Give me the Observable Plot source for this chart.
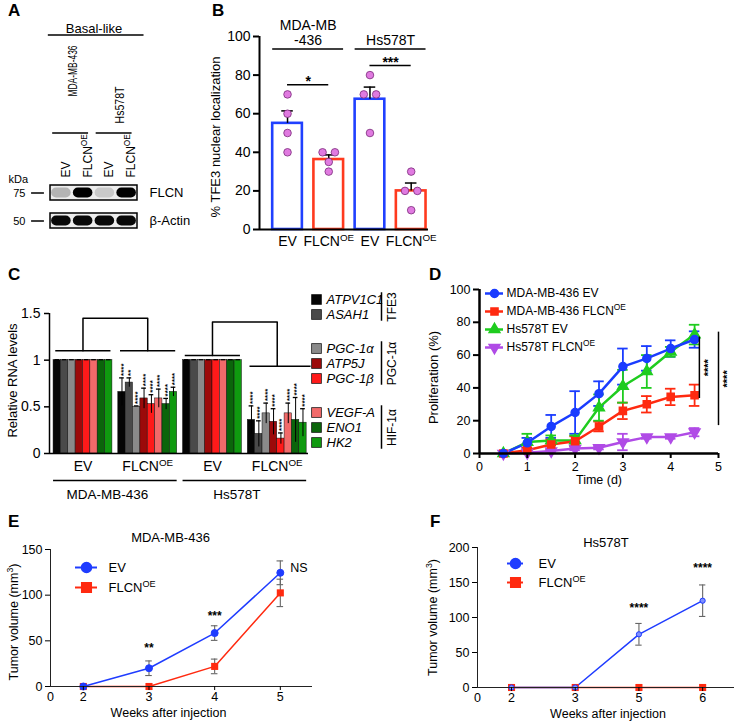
<!DOCTYPE html>
<html><head><meta charset="utf-8">
<script src="https://cdn.jsdelivr.net/npm/d3@7"></script>
<script src="https://cdn.jsdelivr.net/npm/@observablehq/plot@0.6"></script>
<style>
body{margin:0;background:#fff;}
#fig{position:relative;width:739px;height:727px;font-family:"Liberation Sans",Arial,sans-serif;overflow:hidden;background:#fff;}
#fig svg{position:absolute;overflow:visible;}
.lt{position:absolute;font-weight:bold;font-size:17px;line-height:1;color:#000;}
</style></head><body><div id="fig"></div>
<script>
// ================= DATA =================
// Panel A (western blot)
const blotLanes = ["EV", "FLCN^{OE}", "EV", "FLCN^{OE}"];
const blotProteins = ["FLCN", "β-Actin"];
const flcnSignal = [0.4, 1, 0.32, 1];
const actinSignal = [0.97, 0.97, 0.97, 0.97];
const markerKDa = ["75", "50"];
const blotCellLines = ["MDA-MB-436", "Hs578T"];

// Panel B (TFE3 nuclear localization)
const tfe3Labels = ["EV", "FLCN^{OE}", "EV", "FLCN^{OE}"];
const tfe3CellLines = ["MDA-MB\n-436", "Hs578T"];
const tfe3Points = [[70, 60, 50, 40], [40, 40, 35, 30], [80, 70, 70, 50], [30, 20, 20, 10]];
const tfe3Sig = ["*", "***"];

// Panel C (relative RNA levels)
const rnaGenes = ["ATPV1C1", "ASAH1", "PGC-1α", "ATP5J", "PGC-1β", "VEGF-A", "ENO1", "HK2"];
const rnaGeneGroups = ["TFE3", "TFE3", "PGC-1α", "PGC-1α", "PGC-1α", "HIF-1α", "HIF-1α", "HIF-1α"];
const rnaColors = ["#050505", "#4a4a4a", "#8a8a8a", "#9c0a0a", "#ff1a1a", "#f26a6a", "#0b650b", "#0f9a0f"];
const rnaConditions = ["EV", "FLCN^{OE}", "EV", "FLCN^{OE}"];
const rnaCellLines = ["MDA-MB-436", "Hs578T"];
const rnaMdaEV = [1, 1, 1, 1, 1, 1, 1, 1];
const rnaMdaEVsd = [0.005, 0.005, 0.005, 0.005, 0.005, 0.005, 0.005, 0.005];
const rnaMdaFLCN = [0.66, 0.76, 0.50, 0.59, 0.53, 0.59, 0.53, 0.66];
const rnaMdaFLCNsd = [0.15, 0.05, 0.01, 0.11, 0.10, 0.10, 0.06, 0.05];
const rnaMdaStars = ["****", "**", "****", "****", "****", "****", "****", "****"];
const rnaHsEV = [1, 1, 1, 1, 1, 1, 1, 1];
const rnaHsEVsd = [0.005, 0.005, 0.005, 0.005, 0.005, 0.005, 0.005, 0.005];
const rnaHsFLCN = [0.36, 0.21, 0.43, 0.34, 0.16, 0.43, 0.36, 0.33];
const rnaHsFLCNsd = [0.15, 0.14, 0.11, 0.14, 0.06, 0.11, 0.24, 0.15];
const rnaHsStars = ["****", "****", "****", "****", "****", "****", "****", "****"];

// Panel D (proliferation)
const prolTime = [0.5, 1, 1.5, 2, 2.5, 3, 3.5, 4, 4.5];
const prolSeries = ["MDA-MB-436 EV", "MDA-MB-436 FLCN^{OE}", "Hs578T EV", "Hs578T FLCN^{OE}"];
const prolMdaEV = [0, 6.5, 16.5, 25, 36.5, 53, 58, 64, 69.5];
const prolMdaEVerr = [0, 3, 7, 13, 7.5, 11, 7.5, 5, 5];
const prolMdaFLCN = [0, 2, 5.5, 7.5, 16.5, 26, 30, 34.5, 35.5];
const prolMdaFLCNerr = [0, 1.5, 3, 3, 3, 5, 5, 5, 6.5];
const prolHsEV = [0, 7, 8, 8, 28, 41, 50, 62, 72.5];
const prolHsEVerr = [0, 5, 3, 3, 8, 10, 10, 3, 6];
const prolHsFLCN = [0, 0.5, 1.5, 3, 3.5, 7, 10, 10, 13];
const prolHsFLCNerr = [0, 0, 0.5, 1, 1, 5, 1, 1, 2.5];
const prolSig = ["****", "****"];

// Panel E (MDA-MB-436 xenograft)
const tumWeeksE = ["2", "3", "4", "5"];
const tumMdaEV = [0, 20, 58.5, 124.5];
const tumMdaEVerr = [0, 8, 8, 13];
const tumMdaFLCN = [0, 0, 22, 102.5];
const tumMdaFLCNerr = [0, 0, 8, 15];
const tumMdaSig = ["", "**", "***", "NS"];

// Panel F (Hs578T xenograft)
const tumWeeksF = ["2", "3", "5", "6"];
const tumHsEV = [0, 0, 76, 124];
const tumHsEVerr = [0, 0, 15.5, 22.5];
const tumHsFLCN = [0, 0, 0, 0];
const tumHsFLCNerr = [0, 0, 0, 0];
const tumHsSig = ["", "", "****", "****"];

// ================= HELPERS =================
const NS = "http://www.w3.org/2000/svg";
const FONT = '"Liberation Sans", Arial, Helvetica, sans-serif';
const fig = document.getElementById("fig");
function supify(svg) {
  svg.querySelectorAll("text, tspan").forEach(el => {
    if (el.children.length) return;
    const s = el.textContent;
    if (!s.includes("^{")) return;
    const parts = s.split(/\^\{([^}]*)\}/);
    el.textContent = "";
    parts.forEach((p, i) => {
      if (!p) return;
      if (i % 2) {
        const t = document.createElementNS(NS, "tspan");
        t.setAttribute("baseline-shift", "super");
        t.setAttribute("font-size", "70%");
        t.textContent = p;
        el.appendChild(t);
      } else el.appendChild(document.createTextNode(p));
    });
  });
}
function fitText(svg, content, length) {
  svg.querySelectorAll("text").forEach(el => {
    if (el.textContent === content) {
      el.setAttribute("textLength", length);
      el.setAttribute("lengthAdjust", "spacingAndGlyphs");
    }
  });
}
function place(svg, left, top) {
  supify(svg);
  svg.style.position = "absolute";
  svg.style.left = left + "px";
  svg.style.top = top + "px";
  fig.appendChild(svg);
}
const baseStyle = (fs) => ({fontFamily: FONT, fontSize: fs + "px", background: "none", overflow: "visible", color: "#000"});
function letter(t, left, top) {
  const d = document.createElement("div");
  d.className = "lt"; d.textContent = t; d.style.left = left + "px"; d.style.top = top + "px";
  fig.appendChild(d);
}
const triDown = {
  draw(context, size) {
    const s3 = Math.sqrt(3);
    const y = -Math.sqrt(size / (s3 * 3));
    context.moveTo(0, -y * 2);
    context.lineTo(-s3 * y, y);
    context.lineTo(s3 * y, y);
    context.closePath();
  }
};
function legendPlot({left, top, items, rowGap, lineLen, textGap, r, lineWidth, fontSize}) {
  const n = items.length, mT = 10, mB = 10, mL = 2, mR = 200;
  const rows = items.map((d, i) => ({...d, i}));
  const svg = Plot.plot({
    width: mL + lineLen + mR, height: mT + mB + rowGap * (n - 1),
    marginLeft: mL, marginRight: mR, marginTop: mT, marginBottom: mB,
    x: {domain: [0, 1], axis: null},
    y: {domain: [0, n - 1], reverse: true, axis: null},
    color: {type: "identity"},
    style: baseStyle(fontSize),
    marks: [
      Plot.ruleY(rows, {y: "i", x1: 0, x2: 1, stroke: "color", strokeWidth: lineWidth}),
      ...rows.map(d => Plot.dot([d], {x: 0.5, y: "i", fill: d.color, stroke: d.color, symbol: d.symbol, r: d.r || r})),
      Plot.text(rows, {x: 1, y: "i", text: "label", textAnchor: "start", dx: textGap, fontSize})
    ]
  });
  place(svg, left - mL, top - mT);
}

// ================= PANEL A =================
{
  const bands = [];
  blotProteins.forEach((p, pi) => {
    const sig = pi === 0 ? flcnSignal : actinSignal;
    sig.forEach((s, i) => bands.push({protein: p, lane: i, signal: s}));
  });
  const n = blotLanes.length;
  const svg = Plot.plot({
    width: 200, height: 250, marginLeft: 50, marginRight: 63, marginTop: 185, marginBottom: 21,
    x: {domain: [0, n], axis: null},
    y: {type: "band", domain: blotProteins, paddingInner: 0.45, paddingOuter: 0},
    color: {type: "identity"},
    style: baseStyle(12),
    marks: [
      Plot.barX(blotProteins, {y: d => d, x1: 0, x2: n, fill: "#ededed", stroke: "#000", strokeWidth: 1.5}),
      Plot.barX(bands, {y: "protein", x1: d => d.lane + 0.05, x2: d => d.lane + 0.95, fill: d => d3.interpolateGreys(d.signal), insetTop: 2.5, insetBottom: 2.5, rx: 5}),
      Plot.axisY({anchor: "right", tickSize: 0, tickPadding: 12, fontSize: 13, label: null}),
      Plot.text(blotLanes, {x: (d, i) => i + 0.5, frameAnchor: "top", rotate: -90, textAnchor: "start", dy: -8, fontSize: 12}),
      Plot.ruleY(blotCellLines, {y: () => "FLCN", x1: (d, i) => 2 * i + 0.1, x2: (d, i) => 2 * i + 1.75, dy: -60, strokeWidth: 1.5}),
      Plot.text([blotCellLines[0]], {x: 0.8, frameAnchor: "top", rotate: -90, textAnchor: "start", dy: -89, fontSize: 13}),
      Plot.text([blotCellLines[1]], {x: 2.95, frameAnchor: "top", rotate: -90, textAnchor: "start", dy: -62, fontSize: 13}),
      Plot.text(["Basal-like"], {x: n / 2, frameAnchor: "top", textAnchor: "middle", dy: -162, fontSize: 13}),
      Plot.ruleY(["FLCN"], {y: d => d, x1: -0.1, x2: n + 0.3, dy: -158, strokeWidth: 1.5}),
      Plot.text(["kDa"], {frameAnchor: "top-left", textAnchor: "start", dx: -42, dy: -10, fontSize: 11}),
      Plot.text(blotProteins, {y: d => d, text: (d, i) => markerKDa[i], frameAnchor: "left", textAnchor: "end", dx: -25, fontSize: 11}),
      Plot.ruleY(blotProteins, {y: d => d, x1: -0.87, x2: -0.28, strokeWidth: 1.5})
    ]
  });
  fitText(svg, blotCellLines[0], 51);
  fitText(svg, blotCellLines[1], 37);
  place(svg, 0, 0);
}

// ================= PANEL B =================
{
  const xmin = -0.18, xmax = 3.92, half = 0.36;
  const BLUE = "#2040ff", RED = "#ff3a1e";
  const bars = tfe3Points.map((pts, i) => ({
    x: i + 0.5, mean: d3.mean(pts), sem: d3.deviation(pts) / Math.sqrt(pts.length), color: i % 2 ? RED : BLUE
  }));
  const dots = [];
  tfe3Points.forEach((pts, i) => {
    const counts = d3.rollup(pts, v => v.length, d => d);
    const seen = new Map();
    pts.forEach(v => {
      const c = counts.get(v), k = seen.get(v) || 0;
      seen.set(v, k + 1);
      dots.push({x: i + 0.5 + (k - (c - 1) / 2) * 0.3, y: v});
    });
  });
  const sig = tfe3Sig.map((s, j) => ({a: 2 * j + 0.5, b: 2 * j + 1.5, top: d3.max(tfe3Points[2 * j].concat(tfe3Points[2 * j + 1])), label: s}));
  const groups = tfe3CellLines.map((c, j) => ({x1: 2 * j + 0.5 - half, x2: 2 * j + 1.5 + half, xc: 2 * j + 1, label: c}));
  const svg = Plot.plot({
    width: 250, height: 260, marginLeft: 69, marginRight: 12, marginTop: 36, marginBottom: 31,
    x: {domain: [xmin, xmax]}, y: {domain: [0, 100]},
    color: {type: "identity"},
    style: baseStyle(14),
    marks: [
      Plot.rectY(bars, {x1: d => d.x - half, x2: d => d.x + half, y1: 0, y2: "mean", fill: "white", stroke: "color", strokeWidth: 2.6}),
      Plot.ruleX(bars, {x: "x", y1: "mean", y2: d => d.mean + d.sem, strokeWidth: 1.5}),
      Plot.ruleY(bars, {y: d => d.mean + d.sem, x1: d => d.x - 0.14, x2: d => d.x + 0.14, strokeWidth: 1.5}),
      Plot.dot(dots, {x: "x", y: "y", r: 3.8, fill: "#e07ae0", stroke: "#7a2a7a", strokeWidth: 0.8}),
      Plot.ruleY(sig, {y: d => d.top + 5, x1: "a", x2: "b", strokeWidth: 1.5}),
      Plot.text(sig, {x: d => (d.a + d.b) / 2, y: d => d.top + 5, text: "label", dy: -3, fontSize: 14, fontWeight: "bold"}),
      Plot.ruleY(groups, {y: 93.5, x1: "x1", x2: "x2", strokeWidth: 1.5}),
      Plot.text(groups, {x: "xc", y: 93.5, text: "label", lineAnchor: "bottom", dy: -4, fontSize: 14, lineHeight: 1.1}),
      Plot.ruleY([0], {strokeWidth: 2}),
      Plot.ruleX([xmin], {strokeWidth: 2}),
      Plot.axisY({ticks: [0, 20, 40, 60, 80, 100], tickSize: 6, tickPadding: 3, strokeWidth: 2, label: null}),
      Plot.axisX({ticks: bars.map(d => d.x), tickFormat: d => tfe3Labels[Math.floor(d)], tickSize: 0, tickPadding: 7, label: null}),
      Plot.text(["% TFE3 nuclear localization"], {frameAnchor: "left", textAnchor: "middle", rotate: -90, dx: -44, dy: 4, fontSize: 13})
    ]
  });
  place(svg, 190, 0);
}

// ================= PANEL C =================
{
  const step = 8.8, xmin = -0.55, xmax = 34.65;
  const cGroups = [
    {vals: rnaMdaEV, sd: rnaMdaEVsd, stars: null},
    {vals: rnaMdaFLCN, sd: rnaMdaFLCNsd, stars: rnaMdaStars},
    {vals: rnaHsEV, sd: rnaHsEVsd, stars: null},
    {vals: rnaHsFLCN, sd: rnaHsFLCNsd, stars: rnaHsStars}
  ];
  const cBars = cGroups.flatMap((g, gi) => rnaGenes.map((gene, k) => ({
    x1: gi * step + k, x2: gi * step + k + 1, xc: gi * step + k + 0.5,
    v: g.vals[k], sd: g.sd[k], color: rnaColors[k], stars: g.stars ? g.stars[k] : null
  })));
  const cx = g => g * step + 4;
  const tree = [
    {id: 0, g1: 0, g2: 1, y1: 1.1, y2: 1.1, top: 1.45},
    {id: 1, g1: 2, g2: 3, y1: 1.05, y2: 0.935, top: 1.41}
  ];
  const treePts = tree.flatMap(t => [
    {id: t.id, x: cx(t.g1), y: t.y1}, {id: t.id, x: cx(t.g1), y: t.top},
    {id: t.id, x: cx(t.g2), y: t.top}, {id: t.id, x: cx(t.g2), y: t.y2}
  ]);
  const treeLines = tree.flatMap(t => [
    {x1: t.g1 * step + 0.3, x2: t.g1 * step + 7.8, y: t.y1},
    {x1: t.g2 * step + 0.3, x2: t.g2 * step + 7.8 + (t.id === 1 ? 0.8 : 0), y: t.y2}
  ]);
  const cells = rnaCellLines.map((c, j) => ({x1: 2 * j * step, x2: (2 * j + 1) * step + 8, label: c}));
  const svg = Plot.plot({
    width: 310, height: 250, marginLeft: 49, marginRight: 2, marginTop: 53, marginBottom: 57,
    x: {domain: [xmin, xmax]}, y: {domain: [0, 1.5]},
    color: {type: "identity"},
    style: baseStyle(13),
    marks: [
      Plot.rectY(cBars, {x1: "x1", x2: "x2", y1: 0, y2: "v", fill: "color", stroke: "#111", strokeWidth: 0.5}),
      Plot.ruleX(cBars.filter(d => d.sd > 0.01), {x: "xc", y1: d => d.v - d.sd, y2: d => d.v + d.sd, strokeWidth: 1}),
      Plot.ruleY(cBars, {y: d => d.v + d.sd, x1: d => d.xc - 0.32, x2: d => d.xc + 0.32, strokeWidth: 1.3}),
      Plot.text(cBars.filter(d => d.stars), {x: "xc", y: d => d.v + d.sd, text: "stars", rotate: -90, textAnchor: "start", dy: -2, dx: 1, fontSize: 8, fontWeight: "bold"}),
      Plot.line(treePts, {x: "x", y: "y", z: "id", strokeWidth: 1.5}),
      Plot.ruleY(treeLines, {y: "y", x1: "x1", x2: "x2", strokeWidth: 1.5}),
      Plot.ruleY([0], {strokeWidth: 1.5}),
      Plot.ruleX([xmin], {strokeWidth: 1.5}),
      Plot.axisY({ticks: [0, 0.5, 1, 1.5], tickFormat: d => String(d), tickSize: 5, tickPadding: 4, strokeWidth: 1.5, label: null, fontSize: 14}),
      Plot.axisX({ticks: [0, 1, 2, 3].map(cx), tickFormat: d => rnaConditions[Math.round((d - 4) / step)], tickSize: 0, tickPadding: 8, label: null, fontSize: 14}),
      Plot.ruleY(cells, {y: 0, x1: "x1", x2: "x2", dy: 27, strokeWidth: 1.5}),
      Plot.text(cells, {x: d => (d.x1 + d.x2) / 2, y: 0, text: "label", dy: 41, dx: -8, fontSize: 13.5}),
      Plot.text(["Relative RNA levels"], {frameAnchor: "left", textAnchor: "middle", rotate: -90, dx: -37, dy: -3, fontSize: 13})
    ]
  });
  place(svg, 0, 260);

  // legend for C
  const groupNames = Array.from(new Set(rnaGeneGroups));
  const rows = rnaGenes.map((g, i) => ({gene: g, color: rnaColors[i], row: i + 1.27 * groupNames.indexOf(rnaGeneGroups[i])}));
  const lg = groupNames.map(name => {
    const r = rows.filter((d, i) => rnaGeneGroups[i] === name).map(d => d.row);
    return {name, r0: d3.min(r), r1: d3.max(r)};
  });
  const maxRow = d3.max(rows, d => d.row);
  const leg = Plot.plot({
    width: 110, height: 180, marginLeft: 16, marginRight: 29, marginTop: 19, marginBottom: 18,
    x: {domain: [0, 1], axis: null}, y: {domain: [0, maxRow], reverse: true, axis: null},
    color: {type: "identity"},
    style: baseStyle(13),
    marks: [
      Plot.dot(rows, {x: 0, y: "row", symbol: "square", r: 5.6, fill: "color", stroke: "#222", strokeWidth: 0.8}),
      Plot.text(rows, {x: 0, y: "row", text: "gene", textAnchor: "start", dx: 10, fontStyle: "italic", fontSize: 13}),
      Plot.ruleX(lg, {x: 1, y1: d => d.r0 - 0.45, y2: d => d.r1 + 0.45, strokeWidth: 1.5}),
      Plot.text(lg, {x: 1, y: d => (d.r0 + d.r1) / 2, text: "name", rotate: -90, dx: 11, fontSize: 12})
    ]
  });
  place(leg, 300, 280);
}

// ================= PANEL D =================
{
  const colors = ["#1a3cff", "#ff2a10", "#1fcc1f", "#b04be6"];
  const symbols = ["circle", "square", "triangle", triDown];
  const vals = [prolMdaEV, prolMdaFLCN, prolHsEV, prolHsFLCN];
  const errs = [prolMdaEVerr, prolMdaFLCNerr, prolHsEVerr, prolHsFLCNerr];
  const series = prolSeries.map((name, s) => ({name, color: colors[s], symbol: symbols[s],
    pts: prolTime.map((t, i) => ({series: name, color: colors[s], t, v: vals[s][i], e: errs[s][i]}))}));
  const all = series.flatMap(s => s.pts);
  const withErr = all.filter(d => d.e > 0);
  const caps = withErr.flatMap(d => [{...d, y: d.v + d.e}, {...d, y: d.v - d.e}]);
  const last = i => vals[i][vals[i].length - 1];
  const sig = [
    {x: 4.6, y1: last(1) - 2, y2: last(0) + 1.5, label: prolSig[0]},
    {x: 5.0, y1: last(3) + 4, y2: last(2) + 1.5, label: prolSig[1]}
  ];
  const order = [3, 2, 1, 0];
  const svg = Plot.plot({
    width: 339, height: 235, marginLeft: 79, marginRight: 21, marginTop: 24, marginBottom: 47,
    x: {domain: [0, 5]}, y: {domain: [0, 100]},
    color: {type: "identity"},
    style: baseStyle(12.5),
    marks: [
      Plot.ruleX(withErr, {x: "t", y1: d => d.v - d.e, y2: d => d.v + d.e, stroke: "color", strokeWidth: 1.8}),
      Plot.ruleY(caps, {y: "y", x1: d => d.t - 0.11, x2: d => d.t + 0.11, stroke: "color", strokeWidth: 1.8}),
      ...order.map(s => Plot.line(series[s].pts, {x: "t", y: "v", stroke: series[s].color, strokeWidth: 2.5})),
      ...order.map(s => Plot.dot(series[s].pts, {x: "t", y: "v", fill: series[s].color, stroke: series[s].color, symbol: series[s].symbol, r: 4})),
      Plot.ruleX(sig, {x: "x", y1: "y1", y2: "y2", strokeWidth: 1.5}),
      Plot.text(sig, {x: "x", y: d => (d.y1 + d.y2) / 2, text: "label", rotate: -90, dx: 9, fontSize: 11, fontWeight: "bold"}),
      Plot.ruleY([0], {strokeWidth: 2.5}),
      Plot.ruleX([0], {strokeWidth: 2.5}),
      Plot.axisY({ticks: [0, 20, 40, 60, 80, 100], tickSize: 6, tickPadding: 3, strokeWidth: 2, label: null}),
      Plot.axisX({ticks: [0, 1, 2, 3, 4, 5], tickFormat: d => String(d), tickSize: 5, tickPadding: 4, strokeWidth: 2, label: null}),
      Plot.text(["Proliferation (%)"], {frameAnchor: "left", textAnchor: "middle", rotate: -90, dx: -46, dy: 6, fontSize: 13}),
      Plot.text(["Time (d)"], {frameAnchor: "bottom", dy: 30, fontSize: 12.5})
    ]
  });
  place(svg, 400, 265);
  legendPlot({left: 485, top: 293, rowGap: 18, lineLen: 18, textGap: 3, r: 4, lineWidth: 2.5, fontSize: 12,
    items: series.map(s => ({label: s.name, color: s.color, symbol: s.symbol}))});
}

// ================= PANELS E, F =================
function tumorPanel(o) {
  const BLUE = "#1f3cff", RED = "#ff2a10";
  const mk = (vals, errs, name) => vals.map((v, i) => ({idx: i + 1, v, e: errs[i], name}));
  const ev = mk(o.ev, o.evErr, "EV"), fl = mk(o.fl, o.flErr, "FLCN");
  const withErr = ev.concat(fl).filter(d => d.e > 0);
  const caps = withErr.flatMap(d => [{...d, y: d.v + d.e}, {...d, y: d.v - d.e}]);
  const stars = o.sig.map((s, i) => ({idx: i + 1, label: s, y: o.sigY[i]})).filter(d => d.label && d.label !== "NS");
  const ns = o.sig.map((s, i) => ({idx: i + 1, label: s, v: o.ev[i]})).filter(d => d.label === "NS");
  const svg = Plot.plot({
    width: o.width, height: o.height, marginLeft: o.mL, marginRight: o.mR, marginTop: o.mT, marginBottom: o.mB,
    x: {domain: o.xDomain}, y: {domain: [0, o.yMax]},
    style: baseStyle(12.5),
    marks: [
      Plot.ruleX(withErr, {x: "idx", y1: d => d.v - d.e, y2: d => d.v + d.e, stroke: "#666", strokeWidth: 1.1}),
      Plot.ruleY(caps, {y: "y", x1: d => d.idx - 0.05, x2: d => d.idx + 0.05, stroke: "#666", strokeWidth: 1.1}),
      Plot.line(fl, {x: "idx", y: "v", stroke: RED, strokeWidth: 1.5}),
      Plot.line(ev, {x: "idx", y: "v", stroke: BLUE, strokeWidth: 1.5}),
      Plot.dot(fl, {x: "idx", y: "v", symbol: "square", r: 4, fill: RED}),
      Plot.dot(ev, {x: "idx", y: "v", r: o.evR, fill: o.evFill, stroke: BLUE, strokeWidth: 1}),
      Plot.text(stars, {x: "idx", y: "y", text: "label", fontSize: 12, fontWeight: "bold"}),
      Plot.text(ns, {x: "idx", y: "v", text: "label", textAnchor: "start", dx: 10, dy: -5, fontSize: 12.5}),
      Plot.ruleY([0], {stroke: "#222", strokeWidth: 1}),
      Plot.ruleX([o.xDomain[0]], {stroke: "#222", strokeWidth: 1}),
      Plot.axisY({ticks: o.yTicks, tickSize: 5, tickPadding: 3, label: null}),
      Plot.axisX({ticks: o.weeks.map((w, i) => i + 1), tickFormat: d => o.weeks[d - 1], tickSize: 4, tickPadding: 2, label: null}),
      Plot.axisX({ticks: [o.xDomain[0]], tickFormat: () => "0", tickSize: 0, tickPadding: 6, label: null}),
      Plot.text([o.title], {frameAnchor: "top", dx: o.titleDx, dy: o.titleDy, fontSize: 13}),
      Plot.text(["Weeks after injection"], {frameAnchor: "bottom", dx: o.xlabDx, dy: 30, fontSize: 12.5}),
      Plot.text(["Tumor volume (mm^{3})"], {frameAnchor: "left", textAnchor: "middle", rotate: -90, dx: o.ylabDx, dy: o.ylabDy, fontSize: 12.5})
    ]
  });
  place(svg, o.left, o.top);
}
tumorPanel({left: 0, top: 520, width: 370, height: 207, mL: 50, mR: 58, mT: 29, mB: 41,
  xDomain: [0.5, 4.49], yMax: 150, yTicks: [0, 50, 100, 150], weeks: tumWeeksE,
  ev: tumMdaEV, evErr: tumMdaEVerr, fl: tumMdaFLCN, flErr: tumMdaFLCNerr,
  sig: tumMdaSig, sigY: [0, 42, 77, 0], title: "MDA-MB-436", titleDx: -11, titleDy: -17,
  xlabDx: -13, ylabDx: -37, ylabDy: 4, evR: 3.5, evFill: "#1f3cff"});
tumorPanel({left: 370, top: 520, width: 369, height: 207, mL: 107, mR: 5, mT: 27, mB: 40,
  xDomain: [0.466, 4.5], yMax: 200, yTicks: [0, 50, 100, 150, 200], weeks: tumWeeksF,
  ev: tumHsEV, evErr: tumHsEVerr, fl: tumHsFLCN, flErr: tumHsFLCNerr,
  sig: tumHsSig, sigY: [0, 0, 113, 170], title: "Hs578T", titleDx: 0, titleDy: -10,
  xlabDx: 2, ylabDx: -45, ylabDy: 0, evR: 2.6, evFill: "#7f90ff"});
legendPlot({left: 75, top: 567, rowGap: 20, lineLen: 22, textGap: 11, r: 5, lineWidth: 2, fontSize: 13,
  items: [{label: "EV", color: "#1f3cff", symbol: "circle"}, {label: "FLCN^{OE}", color: "#ff2a10", symbol: "square", r: 5.4}]});
legendPlot({left: 507, top: 563, rowGap: 19, lineLen: 16, textGap: 15, r: 5, lineWidth: 2, fontSize: 13,
  items: [{label: "EV", color: "#1f3cff", symbol: "circle"}, {label: "FLCN^{OE}", color: "#ff2a10", symbol: "square", r: 5.4}]});

// ================= PANEL LETTERS =================
letter("A", 8, 2); letter("B", 212, 2); letter("C", 8, 266);
letter("D", 429, 266); letter("E", 8, 513); letter("F", 430, 513);
</script></body></html>
